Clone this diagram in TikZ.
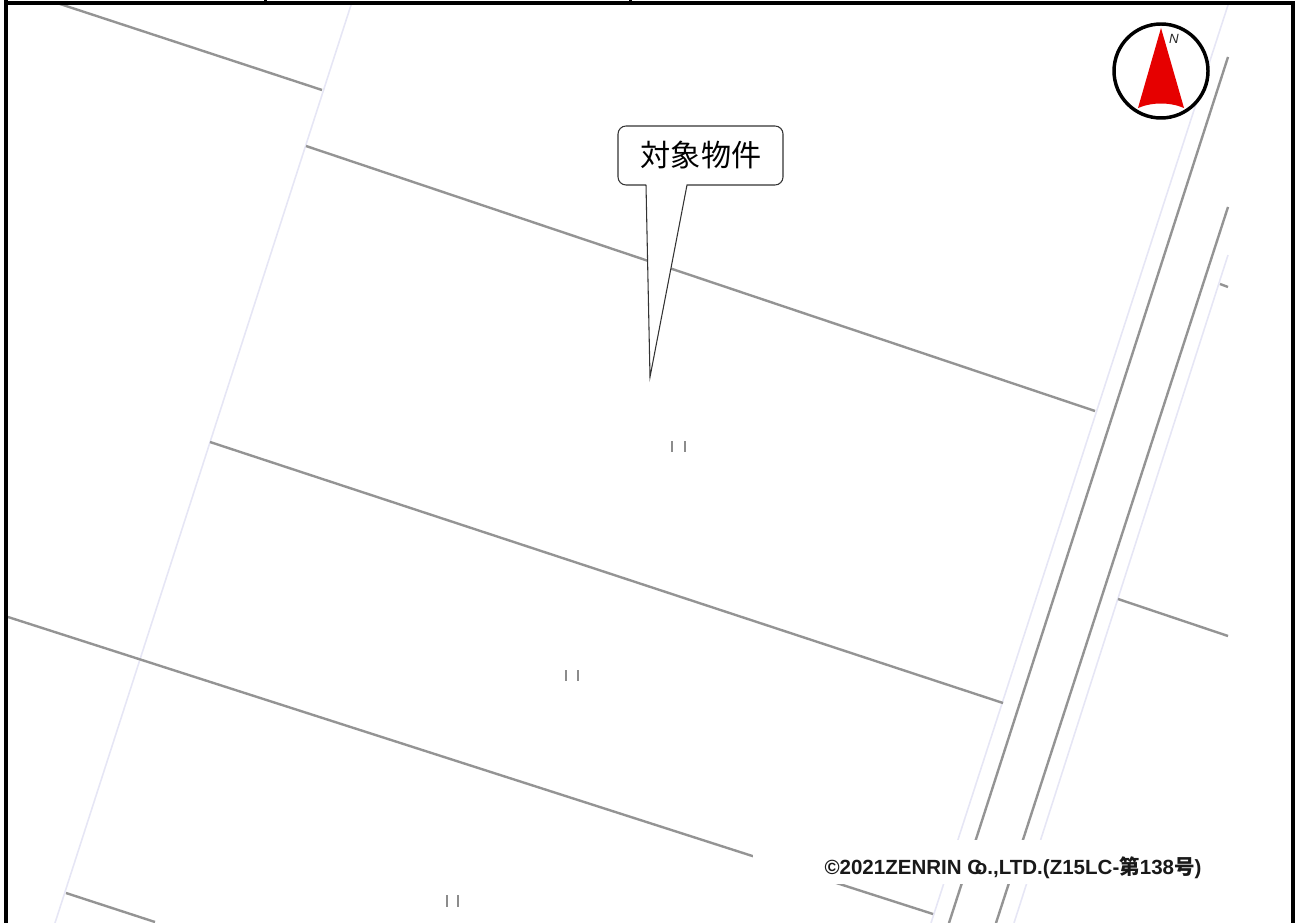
\documentclass[tikz,border=0pt]{standalone}
\usepackage{fontspec}
\setmainfont{Liberation Sans}
\newfontfamily\cjkfont{Noto Sans CJK JP}
\definecolor{compassred}{RGB}{230,0,0}
\definecolor{lightroad}{RGB}{230,230,245}
\tikzset{
	parcel/.style={line width=1.8pt, color=black!42},
	lightline/.style={line width=1.2pt, color=lightroad},
	tickmark/.style={line width=1.6pt, color=black!45},
	frameblock/.style={fill=black, draw=none},
	balloon/.style={line width=0.8pt, color=black!80, fill=white, rounded corners=6pt},
}
\begin{document}
\begin{tikzpicture}[x=0.75pt, y=-0.75pt]
			%%%%% START %%%%%
			\useasboundingbox (0, 0) rectangle (1306, 923);
			
			\draw[lightline](351, 5) -- (55, 923);
			\draw[lightline](1228, 5) -- (931, 923);
			\draw[lightline](1228, 255) -- (1014, 923);
			
			\draw[parcel](60, 4) -- (322, 90);
			\draw[parcel](306, 146) -- (1095, 411);
			\draw[parcel](210, 442) -- (1003, 703);
			\draw[parcel](8, 617) -- (933, 914);
			\draw[parcel](66, 893) -- (155, 922);
			\draw[parcel](1118, 599) -- (1228, 636);
			\draw[parcel](1220, 284) -- (1228, 287);
			\draw[parcel](1228, 57) -- (949, 923);
			\draw[parcel](1228, 207) -- (996, 923);
			
			\draw[tickmark](672, 441) -- (672, 452);
			\draw[tickmark](685, 441) -- (685, 452);
			\draw[tickmark](566, 670) -- (566, 681);
			\draw[tickmark](578, 670) -- (578, 681);
			\draw[tickmark](447, 895) -- (447, 907);
			\draw[tickmark](458, 895) -- (458, 907);
			
			\fill[white] (753, 840) rectangle (1228, 884);
			\node[inner sep=0pt, font=\bfseries\fontsize{15.4}{17}\selectfont, color=black!90] (copyright) at (1013, 868) {©2021ZENRIN C\kern-0.36em o.,LTD.(Z15LC-{\cjkfont 第}138{\cjkfont 号})};
			
			\draw[balloon] (646, 185) [sharp corners] -- (650, 377) -- (687, 185) [rounded corners=6pt] -- (783, 185) -- (783, 126) -- (618, 126) -- (618, 185) -- (646, 185);
			\node[inner sep=0pt, font=\cjkfont\fontsize{22.6}{24}\selectfont, color=black] (target) at (701, 155) {対象物件};
			
			\draw[fill=white, line width=2.6pt] (1161, 71) circle (47);
			\fill[compassred] (1161, 28) -- (1184, 108) .. controls (1170, 102) and (1152, 102) .. (1138, 108) -- cycle;
			\node[inner sep=0pt, font=\itshape\fontsize{10}{12}\selectfont, color=black!85] (north) at (1174, 39) {N};
			
			\fill[frameblock] (4, 0) rectangle (7.5, 923);
			\fill[frameblock] (4, 1) rectangle (1295, 5);
			\fill[frameblock] (1291, 1) rectangle (1295, 923);
			\fill[frameblock] (264, 0) rectangle (267, 1);
			\fill[frameblock] (629, 0) rectangle (632, 1);
			
			%%%%% END %%%%%
		\end{tikzpicture}
\end{document}
